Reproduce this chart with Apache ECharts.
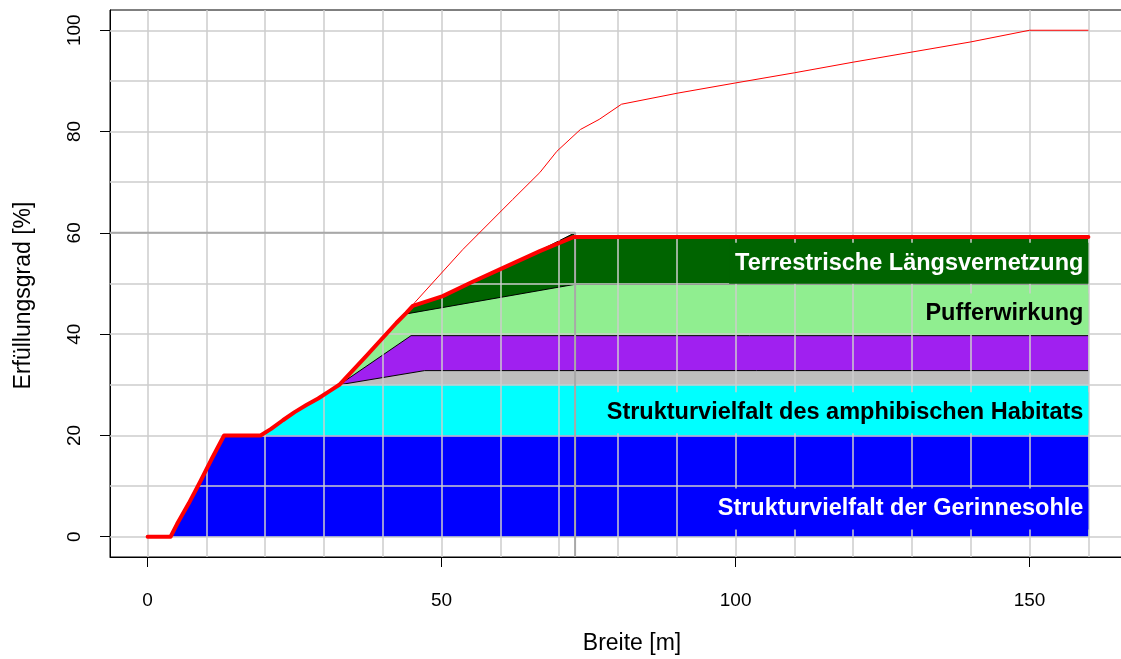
<!DOCTYPE html>
<html><head><meta charset="utf-8">
<script src="https://cdn.jsdelivr.net/npm/echarts@6/dist/echarts.min.js"></script>
<style>html,body{margin:0;padding:0;background:#fff}#c{width:1121px;height:659px}</style>
</head><body><div id="c"></div>
<script>
// ---- data ----
const xTicks = [0, 50, 100, 150];
const yTicks = [0, 20, 40, 60, 80, 100];
const gridX = [0, 10, 20, 30, 40, 50, 60, 70, 80, 90, 100, 110, 120, 130, 140, 150, 160];
const gridY = [0, 10, 20, 30, 40, 50, 60, 70, 80, 90, 100];

// upper boundaries of the stacked bands (cumulative %)
const sohle = [[3.9,0],[5,2.5],[7,6.6],[9,11],[11,15.6],[13,20],[160,20]];
const amphib = [[19.2,20],[21,21.3],[23,23],[25,24.6],[27,26],[29,27.3],[31,28.8],[32.6,30],[160,30]];
const grau = [[32.6,30],[47.1,32.8],[160,32.8]];
const lila = [[32.6,30],[44.8,39.7],[160,39.7]];
const puffer = [[32.6,30],[37.2,35.7],[42.3,42.2],[44,44],[72.5,49.8],[160,49.8]];
const laengs = [[32.6,30],[37.2,35.7],[42.3,42.2],[44,44.2],[45.1,45.6],[50.2,47.5],[55,50.2],[59.9,52.8],[66.7,56.5],[72.3,59.8],[73.3,59.2],[160,59.2]];
// total fulfilment (thick red)
const gesamt = [[0,0],[3.9,0],[5,2.5],[7,6.6],[9,11],[11,15.6],[13,20],[19.2,20],[21,21.3],[23,23],[25,24.6],[27,26],[29,27.3],[31,28.8],[32.6,30],[37.2,35.7],[42.3,42.2],[44,44.2],[45.1,45.6],[50.2,47.5],[55,50.2],[59.9,52.8],[66.7,56.4],[72.5,59.2],[160,59.2]];
// potential (thin red)
const potenzial = [[45.1,45.6],[45.4,46.2],[53.6,56.7],[62.1,66.6],[66.7,71.9],[69.6,76.1],[73.6,80.4],[76.8,82.4],[80.6,85.4],[90.2,87.6],[100,89.6],[110,91.6],[120,93.7],[130,95.7],[140,97.7],[150,100],[160,100]];
const ziel = 60, zielBreite = 72.7;
const labelNames = ['Terrestrische Längsvernetzung', 'Pufferwirkung', 'Strukturvielfalt des amphibischen Habitats', 'Strukturvielfalt der Gerinnesohle'];
const labelY = [54, 44, 24.5, 5.5];
const labelX = 160;

// ---- chart ----
const xMin = -6.4, xMax = 166.4, yMin = -4, yMax = 104;
const FONT = "'Liberation Sans', Arial, sans-serif";
const bandColors = ['#006400', '#90EE90', '#A020F0', '#BEBEBE', '#00FFFF', '#0000FF'];
const labelBg = ['#006400', '#90EE90', '#00FFFF', '#0000FF'];
const labelFg = ['#ffffff', '#000000', '#000000', '#ffffff'];

function band(data, color, edge) {
  return {
    type: 'line', data: data, z: 2, symbol: 'none', showSymbol: false, silent: true,
    lineStyle: edge ? { color: '#000', width: 1 } : { width: 0, color: color },
    areaStyle: { color: color, opacity: 1 }
  };
}

const chart = echarts.init(document.getElementById('c'), null, { renderer: 'canvas' });
chart.setOption({
  animation: false,
  backgroundColor: '#ffffff',
  grid: { left: 110, top: 10, width: 1016, height: 547, outerBoundsMode: 'none', containLabel: false,
          show: true, borderColor: '#000', borderWidth: 1, backgroundColor: 'transparent' },
  xAxis: {
    type: 'value', min: xMin, max: xMax,
    axisLine: { show: true, onZero: false, lineStyle: { color: '#000', width: 1 } },
    axisTick: { show: true, customValues: xTicks, length: 10, lineStyle: { color: '#000' } },
    axisLabel: { customValues: xTicks, margin: 34, fontSize: 19, color: '#000', fontFamily: FONT },
    splitLine: { show: false },
    name: 'Breite [m]', nameLocation: 'middle', nameGap: 75,
    nameTextStyle: { fontSize: 23, color: '#000', fontFamily: FONT, padding: [0, 0, 0, 28] }
  },
  yAxis: {
    type: 'value', min: yMin, max: yMax,
    axisLine: { show: true, onZero: false, lineStyle: { color: '#000', width: 1 } },
    axisTick: { show: true, customValues: yTicks, length: 10, lineStyle: { color: '#000' } },
    axisLabel: { customValues: yTicks, rotate: 90, margin: 26, fontSize: 19, color: '#000', fontFamily: FONT },
    splitLine: { show: false },
    name: 'Erfüllungsgrad [%]', nameLocation: 'middle', nameGap: 75,
    nameTextStyle: { fontSize: 23, color: '#000', fontFamily: FONT, padding: [0, 24, 0, 0] }
  },
  series: [
    band(laengs, bandColors[0], true),
    band(puffer, bandColors[1], true),
    band(lila, bandColors[2], true),
    band(grau, bandColors[3], true),
    band(amphib, bandColors[4], false),
    band(sohle, bandColors[5], false),
    {
      type: 'line', data: [], z: 3, silent: true,
      markLine: {
        z: 3, silent: true, symbol: 'none', animation: false,
        label: { show: false },
        lineStyle: { color: '#cccccc', width: 1.5, type: 'solid' },
        data: gridX.map(v => ({ xAxis: v })).concat(gridY.map(v => ({ yAxis: v })))
      }
    },
    {
      type: 'line', z: 3, symbol: 'none', silent: true,
      data: [[xMin, ziel], [zielBreite, ziel], [zielBreite, yMin]],
      lineStyle: { color: '#a8a8a8', width: 2 }
    },
    {
      type: 'line', z: 4, symbol: 'none', silent: true, data: potenzial,
      lineStyle: { color: '#ff0000', width: 1 }
    },
    {
      type: 'line', z: 4, symbol: 'none', silent: true, data: gesamt,
      lineStyle: { color: '#ff0000', width: 4, join: 'round', cap: 'round' }
    },
    {
      type: 'scatter', z: 6, silent: true, symbolSize: 0,
      itemStyle: { color: '#000', opacity: 1 },
      data: labelNames.map((n, i) => ({
        value: [labelX, labelY[i]],
        label: {
          show: true, formatter: n, position: 'left', distance: 0, opacity: 1,
          fontSize: 23.5, fontWeight: 'bold', fontFamily: FONT, lineHeight: 24,
          color: labelFg[i], textBorderWidth: 0, textShadowBlur: 0,
          backgroundColor: labelBg[i], padding: [8, 5, 9, 6]
        }
      }))
    }
  ]
});
</script>
</body></html>
